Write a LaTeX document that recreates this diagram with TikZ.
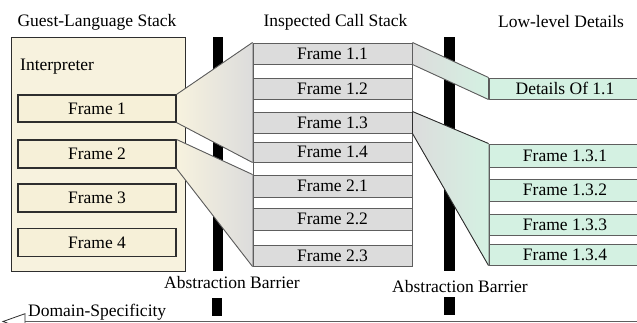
\documentclass[tikz,border=0pt]{standalone}
\usepackage{fontspec}
\setmainfont{Liberation Serif}
\usetikzlibrary{arrows.meta}

\definecolor{cream}{HTML}{F7F2DE}
\definecolor{creamframe}{HTML}{F6F0D8}
\definecolor{callgray}{HTML}{DCDCDC}
\definecolor{mint}{HTML}{D4F1E2}
\definecolor{edgegray}{HTML}{5E5E5E}
\definecolor{darkedge}{HTML}{2E2E2E}

\pgfdeclarelayer{back}
\pgfdeclarelayer{mid}
\pgfsetlayers{back,mid,main}

\tikzset{
  label text/.style={font=\rmfamily\fontsize{17.5}{20}\selectfont, inner sep=0pt},
  guestframe/.style={draw=darkedge, line width=1.1pt, fill=creamframe,
    minimum width=158, inner sep=0pt, font=\rmfamily\fontsize{17.5}{20}\selectfont},
  callframe/.style={draw=edgegray, line width=1pt, fill=callgray,
    minimum width=159, inner sep=0pt, font=\rmfamily\fontsize{17.5}{20}\selectfont},
  lowframe/.style={draw=edgegray, line width=1pt, fill=mint,
    minimum width=152, inner sep=0pt, font=\rmfamily\fontsize{17.5}{20}\selectfont},
  column/.style={draw=edgegray, line width=1pt, fill=white, inner sep=0pt},
  barrier/.style={fill=black},
  funnel edge/.style={draw=edgegray, line width=0.9pt},
}

\begin{document}
\begin{tikzpicture}[x=1pt, y=-1pt]
  \useasboundingbox (0,0) rectangle (637,322);
  \clip (0,0) rectangle (637,322);

  \begin{pgfonlayer}{back}
    \fill[white] (0,0) rectangle (637,322);
    % guest-language interpreter box
    \node[draw=darkedge, line width=1pt, fill=cream, minimum width=174,
          minimum height=234, inner sep=0pt, anchor=north west]
          (interp) at (11,37) {};
    % abstraction barriers
    \fill[barrier] (213,37) rectangle (223,271);
    \fill[barrier] (212,298) rectangle (222,316);
    \fill[barrier] (444,37) rectangle (455,271);
    \fill[barrier] (444,297) rectangle (455,315);
  \end{pgfonlayer}

  % column headings
  \node[label text] (hguest) at (97,22) {Guest-Language Stack};
  \node[label text] (hcall)  at (335.5,22) {Inspected Call Stack};
  \node[label text] (hlow)   at (561,22) {Low-level Details};

  \node[label text, anchor=west] (interplbl) at (20,67) {Interpreter};

  \node[guestframe, minimum height=27] (g1) at (97,108.5) {Frame 1};
  \node[guestframe, minimum height=28] (g2) at (97,154)   {Frame 2};
  \node[guestframe, minimum height=28] (g3) at (97,198)   {Frame 3};
  \node[guestframe, minimum height=28] (g4) at (97,242.5) {Frame 4};

  % inspected call stack
  \node[column, minimum width=159, minimum height=223, anchor=north west]
        (callcol) at (253,43) {};
  \node[callframe, minimum height=21] (c11) at (332.5,53.5)  {Frame 1.1};
  \node[callframe, minimum height=21] (c12) at (332.5,88.5)  {Frame 1.2};
  \node[callframe, minimum height=21] (c13) at (332.5,122.5) {Frame 1.3};
  \node[callframe, minimum height=20] (c14) at (332.5,152)   {Frame 1.4};
  \node[callframe, minimum height=22] (c21) at (332.5,186)   {Frame 2.1};
  \node[callframe, minimum height=22] (c22) at (332.5,219)   {Frame 2.2};
  \node[callframe, minimum height=21] (c23) at (332.5,255.5) {Frame 2.3};

  % low-level details
  \node[lowframe, minimum height=21] (d11) at (565,88.5) {Details Of 1.1};
  \node[column, minimum width=152, minimum height=121, anchor=north west]
        (lowcol) at (489,144) {};
  \node[lowframe, minimum height=23] (l1) at (565,155.5) {Frame 1.3.1};
  \node[lowframe, minimum height=22] (l2) at (565,190)   {Frame 1.3.2};
  \node[lowframe, minimum height=21] (l3) at (565,224.5) {Frame 1.3.3};
  \node[lowframe, minimum height=21] (l4) at (565,254.5) {Frame 1.3.4};

  \node[label text] (bar1) at (232,283) {Abstraction Barrier};
  \node[label text] (bar2) at (460,287) {Abstraction Barrier};

  % funnels mapping frames onto the next level
  \begin{pgfonlayer}{mid}
    \fill[left color=cream, middle color=cream!75!callgray, right color=callgray]
      (g1.north east) -- (c11.north west) -- (c14.south west) -- (g1.south east) -- cycle;
    \fill[left color=cream, middle color=cream!75!callgray, right color=callgray]
      (g2.north east) -- (c21.north west) -- (c23.south west) -- (g2.south east) -- cycle;
    \fill[left color=callgray, middle color=callgray!60!mint, right color=mint]
      (c11.north east) -- (d11.north west) -- (d11.south west) -- (c11.south east) -- cycle;
    \fill[left color=callgray, middle color=callgray!60!mint, right color=mint]
      (c13.north east) -- (l1.north west) -- (l4.south west) -- (c13.south east) -- cycle;
  \end{pgfonlayer}
  \draw[funnel edge] (g1.north east) -- (c11.north west);
  \draw[funnel edge] (g1.south east) -- (c14.south west);
  \draw[funnel edge] (g2.north east) -- (c21.north west);
  \draw[funnel edge] (g2.south east) -- (c23.south west);
  \draw[funnel edge] (c11.north east) -- (d11.north west);
  \draw[funnel edge] (c11.south east) -- (d11.south west);
  \draw[funnel edge, draw=darkedge] (c13.north east) -- (l1.north west);
  \draw[funnel edge, draw=darkedge] (c13.south east) -- (l4.south west);
  \draw[darkedge, line width=1.6pt] (c13.north east) -- (c13.south east);

  % domain-specificity axis
  \coordinate (axisR) at (640,321.5);
  \coordinate (axisL) at (25,321.5);
  \coordinate (axisTip) at (3,321.5);
  \draw[edgegray, line width=1.8pt] (axisR) -- (axisL);
  \draw[darkedge, line width=0.8pt, fill=white]
    (axisTip) -- ([yshift=-7.8pt]axisL) -- ([yshift=7.8pt]axisL) -- cycle;
  \node[label text, anchor=base west] (domain) at (28,316) {Domain-Specificity};
\end{tikzpicture}
\end{document}
